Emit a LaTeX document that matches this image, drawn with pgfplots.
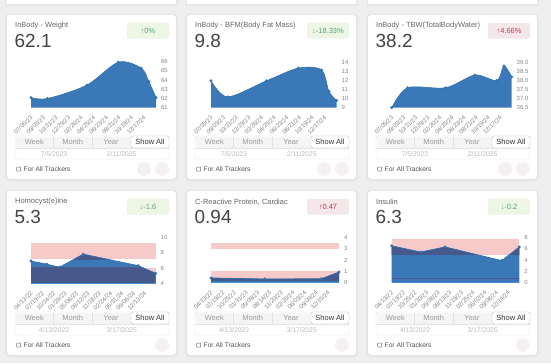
\documentclass[border=0pt]{standalone}
\usepackage{pgfplots}
\pgfplotsset{compat=1.18}
\usepgfplotslibrary{fillbetween}
\usepackage{fontspec}
\setmainfont{Liberation Sans}

\definecolor{pagebg}{HTML}{EFEFEF}
\definecolor{areablue}{HTML}{3A78B7}
\definecolor{lineblue}{HTML}{3270B2}
\definecolor{basebl}{HTML}{4A8AD0}
\definecolor{darkband}{HTML}{46598A}
\definecolor{bandpink}{HTML}{F7CACA}
\definecolor{gbg}{HTML}{EDF5E4}
\definecolor{gfg}{HTML}{55A382}
\definecolor{rbg}{HTML}{F4E7EA}
\definecolor{rfg}{HTML}{C4365C}
\definecolor{titlegray}{HTML}{666666}
\definecolor{numgray}{HTML}{444444}
\definecolor{tickgray}{HTML}{858585}
\definecolor{selborder}{HTML}{E3E3E3}
\definecolor{btnbg}{HTML}{F5F5F5}
\definecolor{btntext}{HTML}{9A9A9A}
\definecolor{datetext}{HTML}{BBBBBB}
\definecolor{circ}{HTML}{F6F1F1}

\tikzset{greenbadge/.style={fill=gbg,text=gfg}, redbadge/.style={fill=rbg,text=rfg}}

\pgfplotsset{mini/.style={
  scale only axis, anchor=south west, clip=false,
  axis line style={draw=none}, tick style={draw=none},
  major tick length=0pt,
  yticklabel pos=right,
  yticklabel style={font=\fontsize{6}{6}\selectfont, text=tickgray, xshift=1.5bp},
  xticklabel style={font=\fontsize{6.1}{6.1}\selectfont, text=tickgray, xshift=3bp, yshift=-6.5bp, rotate=45, anchor=east},
},
bandov/.style={scale only axis, anchor=south west, hide axis, clip=true, xmin=0, xmax=1069}}

% #1 L, #2 T, #3 title, #4 value, #5 badge text, #6 badge style, #7 date1, #8 date2, #9 circles
\newcommand{\card}[9]{%
  \fill[black,opacity=0.025,rounded corners=5] ({#1-2.5},{-(#2-1.5)}) rectangle ({#1+171.5},{-(#2+166.5)});
  \fill[black,opacity=0.03,rounded corners=4] ({#1-1},{-(#2-0.5)}) rectangle ({#1+170},{-(#2+165)});
  \fill[white,rounded corners=3] (#1,-#2) rectangle ({#1+169},{-(#2+164)});
  \node[anchor=west, font=\fontsize{7.5}{9}\selectfont, text=titlegray, inner sep=0] at ({#1+8},{-(#2+11)}) {#3};
  \node[anchor=base west, font=\fontsize{19}{22}\selectfont, text=numgray, inner sep=0] at ({#1+7.5},{-(#2+32)}) {#4};
  \node[#6, rounded corners=1.5bp, minimum width=42bp, minimum height=15.7bp, inner sep=0, font=\fontsize{7.5}{9}\selectfont] at ({#1+141},{-(#2+15.7)}) {#5};
  % selector
  \draw[selborder, fill=white, rounded corners=2] ({#1+8},{-(#2+121)}) rectangle ({#1+162},{-(#2+144)});
  \fill[btnbg] ({#1+8.5},{-(#2+121.5)}) rectangle ({#1+124},{-(#2+133)});
  \draw[selborder] ({#1+8},{-(#2+133)}) -- ({#1+162},{-(#2+133)});
  \draw[selborder] ({#1+46.3},{-(#2+121)}) -- ({#1+46.3},{-(#2+133)});
  \draw[selborder] ({#1+85.3},{-(#2+121)}) -- ({#1+85.3},{-(#2+133)});
  \draw[draw=black!22, fill=white, rounded corners=1.5] ({#1+124},{-(#2+121)}) rectangle ({#1+162},{-(#2+133)});
  \node[font=\fontsize{7.5}{9}\selectfont, text=btntext, inner sep=0] at ({#1+27.3},{-(#2+127.3)}) {Week};
  \node[font=\fontsize{7.5}{9}\selectfont, text=btntext, inner sep=0] at ({#1+65.7},{-(#2+127.3)}) {Month};
  \node[font=\fontsize{7.5}{9}\selectfont, text=btntext, inner sep=0] at ({#1+104},{-(#2+127.3)}) {Year};
  \node[font=\fontsize{7.5}{9}\selectfont, text=black!80, inner sep=0] at ({#1+143},{-(#2+127.3)}) {Show All};
  \node[font=\fontsize{6.8}{8}\selectfont, text=datetext, inner sep=0] at ({#1+47},{-(#2+139)}) {#7};
  \node[font=\fontsize{6.8}{8}\selectfont, text=datetext, inner sep=0] at ({#1+114.7},{-(#2+139)}) {#8};
  % checkbox
  \draw[black!55, line width=0.5pt, rounded corners=0.5] ({#1+9.7},{-(#2+152)}) rectangle ({#1+13.7},{-(#2+156)});
  \node[anchor=west, font=\fontsize{6.7}{8}\selectfont, text=black!68, inner sep=0] at ({#1+16.5},{-(#2+154)}) {For All Trackers};
  \fill[circ] ({#1+155},{-(#2+154)}) circle (7);
  \ifnum#9>1 \fill[circ] ({#1+137},{-(#2+154)}) circle (7);\fi
}

\begin{document}
\begin{tikzpicture}[x=1bp,y=1bp]
\fill[pagebg] (0,0) rectangle (551,-363);

% partial top cards
\foreach \L in {7,187,368}{
  \fill[black,opacity=0.03] ({\L-1.5},0) rectangle ({\L+170.5},{-5.5});
  \fill[white] (\L,0) rectangle ({\L+169},-4);
}

\card{7}{15}{InBody - Weight}{62.1}{↑0\%}{greenbadge}{7/5/2023}{2/11/2025}{2}
\card{187}{15}{InBody - BFM(Body Fat Mass)}{9.8}{↓-18.33\%}{greenbadge}{7/5/2023}{2/11/2025}{2}
\card{368}{15}{InBody - TBW(TotalBodyWater)}{38.2}{↑4.66\%}{redbadge}{7/5/2023}{2/11/2025}{2}
\card{7}{191}{Homocyst(e)ine}{5.3}{↓-1.6}{greenbadge}{4/13/2022}{3/17/2025}{1}
\card{187}{191}{C-Reactive Protein, Cardiac}{0.94}{↑0.47}{redbadge}{4/13/2022}{3/17/2025}{1}
\card{368}{191}{Insulin}{6.3}{↓-0.2}{greenbadge}{4/13/2022}{3/17/2025}{1}

% ---------- Weight
\begin{axis}[mini, at={(31bp,-107.7bp)}, width=125bp, height=46bp,
  xmin=0, xmax=587, ymin=61, ymax=66,
  xtick={0,59,118,177,236,295,354,413,472,531},
  xticklabels={07/05/23,09/03/23,10/31/23,12/29/23,02/26/24,04/25/24,06/23/24,08/21/24,10/19/24,12/17/24},
  ytick={61,62,63,64,65,66}, yticklabels={61,62,63,64,65,66}]
  \addplot[name path=c, draw=none, smooth] coordinates {(0,62.1) (78,62.0) (262,63.45) (410,65.95) (518,65.3) (553,63.85) (587,62.1)};
  \addplot[name path=b, draw=none] coordinates {(0,61) (587,61)};
  \addplot[fill=areablue, draw=none] fill between[of=c and b, on layer=main];
  \addplot[lineblue, line width=0.6pt, smooth, mark=*, mark size=1.1pt] coordinates {(0,62.1) (78,62.0) (262,63.45) (410,65.95) (518,65.3) (553,63.85) (587,62.1)};
\end{axis}

% ---------- BFM
\begin{axis}[mini, at={(211bp,-107.7bp)}, width=125.7bp, height=45bp,
  xmin=0, xmax=587, ymin=9, ymax=14,
  xtick={0,59,118,177,236,295,354,413,472,531},
  xticklabels={07/05/23,09/03/23,10/31/23,12/29/23,02/26/24,04/25/24,06/23/24,08/21/24,10/19/24,12/17/24},
  ytick={9,10,11,12,13,14}, yticklabels={9,10,11,12,13,14}]
  \addplot[name path=c, draw=none, smooth] coordinates {(0,12.0) (78,10.2) (260,12.0) (408,13.4) (516,13.2) (551,10.8) (587,9.8)};
  \addplot[name path=b, draw=none] coordinates {(0,9) (587,9)};
  \addplot[fill=areablue, draw=none] fill between[of=c and b, on layer=main];
  \addplot[lineblue, line width=0.6pt, smooth, mark=*, mark size=1.1pt] coordinates {(0,12.0) (78,10.2) (260,12.0) (408,13.4) (516,13.2) (551,10.8) (587,9.8)};
\end{axis}

% ---------- TBW
\begin{axis}[mini, at={(391.7bp,-107.7bp)}, width=120bp, height=45.4bp,
  xmin=0, xmax=587, ymin=36.5, ymax=39,
  xtick={0,59,118,177,236,295,354,413,472,531},
  xticklabels={07/05/23,09/03/23,10/31/23,12/29/23,02/26/24,04/25/24,06/23/24,08/21/24,10/19/24,12/17/24},
  ytick={36.5,37,37.5,38,38.5,39}, yticklabels={36.5,37.0,37.5,38.0,38.5,39.0}]
  \addplot[name path=c, draw=none, smooth] coordinates {(0,36.5) (78,37.6) (264,37.6) (407,38.3) (514,38.0) (549,38.8) (587,38.2)};
  \addplot[name path=b, draw=none] coordinates {(0,36.5) (587,36.5)};
  \addplot[fill=areablue, draw=none] fill between[of=c and b, on layer=main];
  \addplot[lineblue, line width=0.6pt, smooth, mark=*, mark size=1.1pt] coordinates {(0,36.5) (78,37.6) (264,37.6) (407,38.3) (514,38.0) (549,38.8) (587,38.2)};
\end{axis}

% ---------- Homocysteine
\begin{axis}[mini, at={(31bp,-283.3bp)}, width=124.7bp, height=46bp,
  xmin=0, xmax=1069, ymin=4, ymax=10,
  xtick={0,97.5,195,292.5,390,487.5,585,682.5,780,877.5,975},
  xticklabels={04/13/22,07/19/22,10/24/22,01/29/23,05/06/23,08/12/23,11/18/23,02/24/24,05/31/24,09/06/24,12/13/24},
  ytick={4,6,8,10}, yticklabels={4,6,8,10}]
  \addplot[fill=bandpink, draw=none] coordinates {(0,7.15) (1069,7.15) (1069,9.2) (0,9.2)};
  \addplot[fill=bandpink, draw=none] coordinates {(0,4) (1069,4) (1069,6) (0,6)};
  \addplot[fill=areablue, draw=none] coordinates {(0,4) (0,6.9) (135,6.5) (243,6.1) (448,7.8) (920,6.3) (1069,5.3) (1069,4)};
\end{axis}
\begin{axis}[bandov, at={(31bp,-283.3bp)}, width=124.7bp, height=15.33bp, ymin=4, ymax=6]
  \addplot[fill=darkband, draw=none] coordinates {(0,4) (0,6.9) (135,6.5) (243,6.1) (448,7.8) (920,6.3) (1069,5.3) (1069,4)};
\end{axis}
\begin{axis}[bandov, at={(31bp,-259.15bp)}, width=124.7bp, height=15.72bp, ymin=7.15, ymax=9.2]
  \addplot[fill=darkband, draw=none] coordinates {(0,4) (0,6.9) (135,6.5) (243,6.1) (448,7.8) (920,6.3) (1069,5.3) (1069,4)};
\end{axis}
\begin{axis}[mini, at={(31bp,-283.3bp)}, width=124.7bp, height=46bp,
  xmin=0, xmax=1069, ymin=4, ymax=10, xtick=\empty, ytick=\empty]
  \addplot[basebl, line width=0.8pt] coordinates {(0,4) (1069,4)};
  \addplot[lineblue, line width=0.7pt, mark=*, mark size=1.1pt] coordinates {(0,6.9) (135,6.5) (243,6.1) (448,7.8) (920,6.3) (1069,5.3)};
\end{axis}

% ---------- CRP
\begin{axis}[mini, at={(211bp,-282.7bp)}, width=128bp, height=45.4bp,
  xmin=0, xmax=1069, ymin=0, ymax=4,
  xtick={0,97.7,195.4,293.1,390.8,488.5,586.2,683.9,781.6,879.3,977},
  xticklabels={04/13/22,07/19/22,10/25/22,01/31/23,05/09/23,08/14/23,11/20/23,02/26/24,06/03/24,09/09/24,12/15/24},
  ytick={0,1,2,3,4}, yticklabels={0,1,2,3,4}]
  \addplot[fill=bandpink, draw=none] coordinates {(0,3.0) (1069,3.0) (1069,3.47) (0,3.47)};
  \addplot[fill=bandpink, draw=none] coordinates {(0,0.2) (1069,0.2) (1069,1.0) (0,1.0)};
  \addplot[fill=areablue, draw=none] coordinates {(0,0) (0,0.42) (448,0.33) (921,0.35) (1069,0.94) (1069,0)};
\end{axis}
\begin{axis}[bandov, at={(211bp,-280.43bp)}, width=128bp, height=9.08bp, ymin=0.2, ymax=1.0]
  \addplot[fill=darkband, draw=none] coordinates {(0,0) (0,0.42) (448,0.33) (921,0.35) (1069,0.94) (1069,0)};
\end{axis}
\begin{axis}[mini, at={(211bp,-282.7bp)}, width=128bp, height=45.4bp,
  xmin=0, xmax=1069, ymin=0, ymax=4, xtick=\empty, ytick=\empty]
  \addplot[basebl, line width=0.8pt] coordinates {(0,0) (1069,0)};
  \addplot[lineblue, line width=0.7pt, mark=*, mark size=1.1pt] coordinates {(0,0.42) (448,0.33) (921,0.35) (1069,0.94)};
\end{axis}

% ---------- Insulin
\begin{axis}[mini, at={(391.7bp,-282.7bp)}, width=127.6bp, height=45.4bp,
  xmin=0, xmax=1069, ymin=0, ymax=8,
  xtick={0,97.6,195.2,292.8,390.4,488,585.6,683.2,780.8,878.4,976},
  xticklabels={04/13/22,07/19/22,10/25/22,01/30/23,05/08/23,08/13/23,11/19/23,02/25/24,06/02/24,09/08/24,12/14/24},
  ytick={0,2,4,6,8}, yticklabels={0,2,4,6,8}]
  \addplot[fill=bandpink, draw=none] coordinates {(0,4.9) (1069,4.9) (1069,7.7) (0,7.7)};
  \addplot[fill=areablue, draw=none] coordinates {(0,0) (0,6.5) (243,5.4) (447,6.3) (921,3.9) (1069,6.3) (1069,0)};
\end{axis}
\begin{axis}[bandov, at={(391.7bp,-254.89bp)}, width=127.6bp, height=15.89bp, ymin=4.9, ymax=7.7]
  \addplot[fill=darkband, draw=none] coordinates {(0,0) (0,6.5) (243,5.4) (447,6.3) (921,3.9) (1069,6.3) (1069,0)};
\end{axis}
\begin{axis}[mini, at={(391.7bp,-282.7bp)}, width=127.6bp, height=45.4bp,
  xmin=0, xmax=1069, ymin=0, ymax=8, xtick=\empty, ytick=\empty]
  \addplot[darkband, line width=0.9pt] coordinates {(0,0.78) (1069,0.78)};
  \addplot[basebl, line width=0.8pt] coordinates {(0,0) (1069,0)};
  \addplot[lineblue, line width=0.7pt, mark=*, mark size=1.1pt] coordinates {(0,6.5) (243,5.4) (447,6.3) (921,3.9) (1069,6.3)};
\end{axis}
\end{tikzpicture}
\end{document}
